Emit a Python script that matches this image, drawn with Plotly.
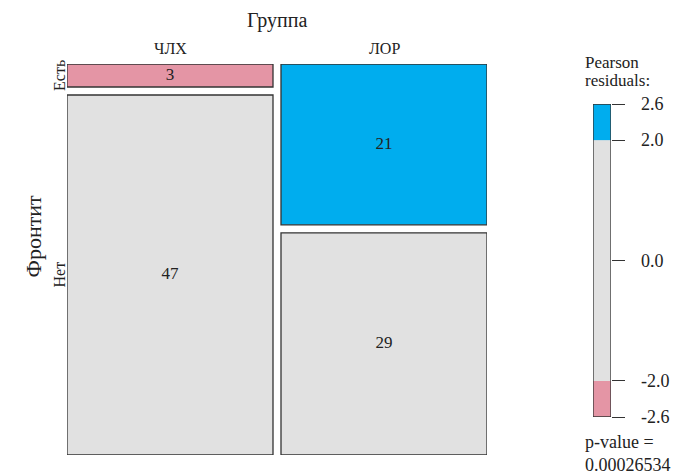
import numpy as np
import plotly.graph_objects as go

# Contingency table: Фронтит (rows) by Группа (columns)
groups = ["ЧЛХ", "ЛОР"]
rows = ["Есть", "Нет"]
chlh_counts = [3, 47]
lor_counts = [21, 29]

legend_ticks = [-2.6, -2.0, 0.0, 2.0, 2.6]
legend_ticktext = ["-2.6", "-2.0", "0.0", "2.0", "2.6"]
p_value_text = "0.00026534"

FONT = "Liberation Serif"
BLUE = "#00ADEE"
PINK = "#E495A5"
GREY = "#E1E1E1"
EDGE = "#333333"

W, H = 677, 475
table = np.array([chlh_counts, lor_counts], dtype=float)  # [group, row]
n = table.sum()
col_tot = table.sum(axis=1)
row_tot = table.sum(axis=0)
expected = np.outer(col_tot, row_tot) / n
resid = (table - expected) / np.sqrt(expected)


def shade(r):
    if r > 2:
        return BLUE
    if r < -2:
        return PINK
    return GREY


# gaps between tiles, in mosaic units
gx = 8 / 412
gy = 8 / 383

fig = go.Figure()
shapes = []
tx, ty, tt = [], [], []
x0 = 0.0
for j, g in enumerate(groups):
    wj = col_tot[j] / n
    y0 = 0.0
    for i, rname in enumerate(rows):
        hi = table[j, i] / col_tot[j]
        shapes.append(dict(type="rect", xref="x", yref="y",
                           x0=x0, x1=x0 + wj, y0=y0, y1=y0 + hi,
                           fillcolor=shade(resid[j, i]),
                           line=dict(color=EDGE, width=1.3), layer="below"))
        tx.append(x0 + wj / 2)
        ty.append(y0 + hi / 2)
        tt.append(str(int(table[j, i])))
        y0 += hi + gy
    x0 += wj + gx

fig.add_trace(go.Scatter(x=tx, y=ty, text=tt, mode="text",
                         textfont=dict(family=FONT, size=17, color="#222"),
                         hoverinfo="skip", showlegend=False, cliponaxis=False,
                         xaxis="x", yaxis="y"))

# legend bar for residual shading
lo, hi = legend_ticks[0], legend_ticks[-1]
for a, b, c in [(lo, -2.0, PINK), (-2.0, 2.0, GREY), (2.0, hi, BLUE)]:
    shapes.append(dict(type="rect", xref="x2", yref="y2", x0=0, x1=1, y0=a, y1=b,
                       fillcolor=c, line=dict(width=0), layer="below"))
shapes.append(dict(type="rect", xref="x2", yref="y2", x0=0, x1=1, y0=lo, y1=hi,
                   fillcolor="rgba(0,0,0,0)", line=dict(color=EDGE, width=1.3)))
fig.add_trace(go.Scatter(x=[0.5], y=[0], mode="markers", marker=dict(opacity=0),
                         hoverinfo="skip", showlegend=False, xaxis="x2", yaxis="y2"))

px = lambda v: v / W
py = lambda v: 1 - v / H

ann = []
ann.append(dict(text="Группа", x=px(277), y=py(20), font=dict(size=20)))
x0 = 0.0
for j, g in enumerate(groups):
    wj = col_tot[j] / n
    ann.append(dict(text=g, xref="x", x=x0 + wj / 2, y=py(48), font=dict(size=16)))
    x0 += wj + gx
# row labels placed at the first column's tile centres
y0 = 0.0
for i, rname in enumerate(rows):
    hi_ = table[0, i] / col_tot[0]
    ann.append(dict(text=rname, x=px(49), yref="y", y=y0 + hi_ / 2,
                    textangle=-90, font=dict(size=16)))
    y0 += hi_ + gy
ann.append(dict(text="Фронтит", x=px(18), y=py(236), textangle=-90, font=dict(size=22)))
ann.append(dict(text="Pearson", x=px(583), y=py(62), xanchor="left", font=dict(size=17)))
ann.append(dict(text="residuals:", x=px(583), y=py(81), xanchor="left", font=dict(size=17)))
ann.append(dict(text="p-value =", x=px(583), y=py(442), xanchor="left", font=dict(size=18)))
ann.append(dict(text=p_value_text, x=px(583), y=py(465), xanchor="left", font=dict(size=18)))
# legend tick labels
for v, t in zip(legend_ticks, legend_ticktext):
    ann.append(dict(text=t, x=px(639), yref="y2", y=v, xanchor="left",
                    font=dict(size=18)))
for a in ann:
    a.setdefault("xref", "paper")
    a.setdefault("yref", "paper")
    a.setdefault("yanchor", "middle")
    a.setdefault("showarrow", False)
    a["font"] = dict(family=FONT, color="#222", **a["font"])

fig.update_layout(
    width=W, height=H, margin=dict(l=0, r=0, t=0, b=0, pad=0),
    paper_bgcolor="white", plot_bgcolor="white",
    shapes=shapes, annotations=ann,
    xaxis=dict(domain=[67 / W, 487 / W], range=[0, 1 + gx], visible=False,
               fixedrange=True, automargin=False),
    yaxis=dict(domain=[1 - 455 / H, 1 - 64 / H], range=[1 + gy, 0], visible=False,
               fixedrange=True, automargin=False),
    xaxis2=dict(domain=[593 / W, 611 / W], range=[0, 1], visible=False, anchor="y2",
                automargin=False),
    yaxis2=dict(domain=[1 - 417 / H, 1 - 104 / H], range=[lo, hi], anchor="x2", side="right",
                tickvals=legend_ticks, ticks="outside", showticklabels=False,
                ticklen=13, tickwidth=1.3, tickcolor=EDGE, automargin=False,
                showgrid=False, zeroline=False, showline=False),
)

fig.write_html("out.html")
